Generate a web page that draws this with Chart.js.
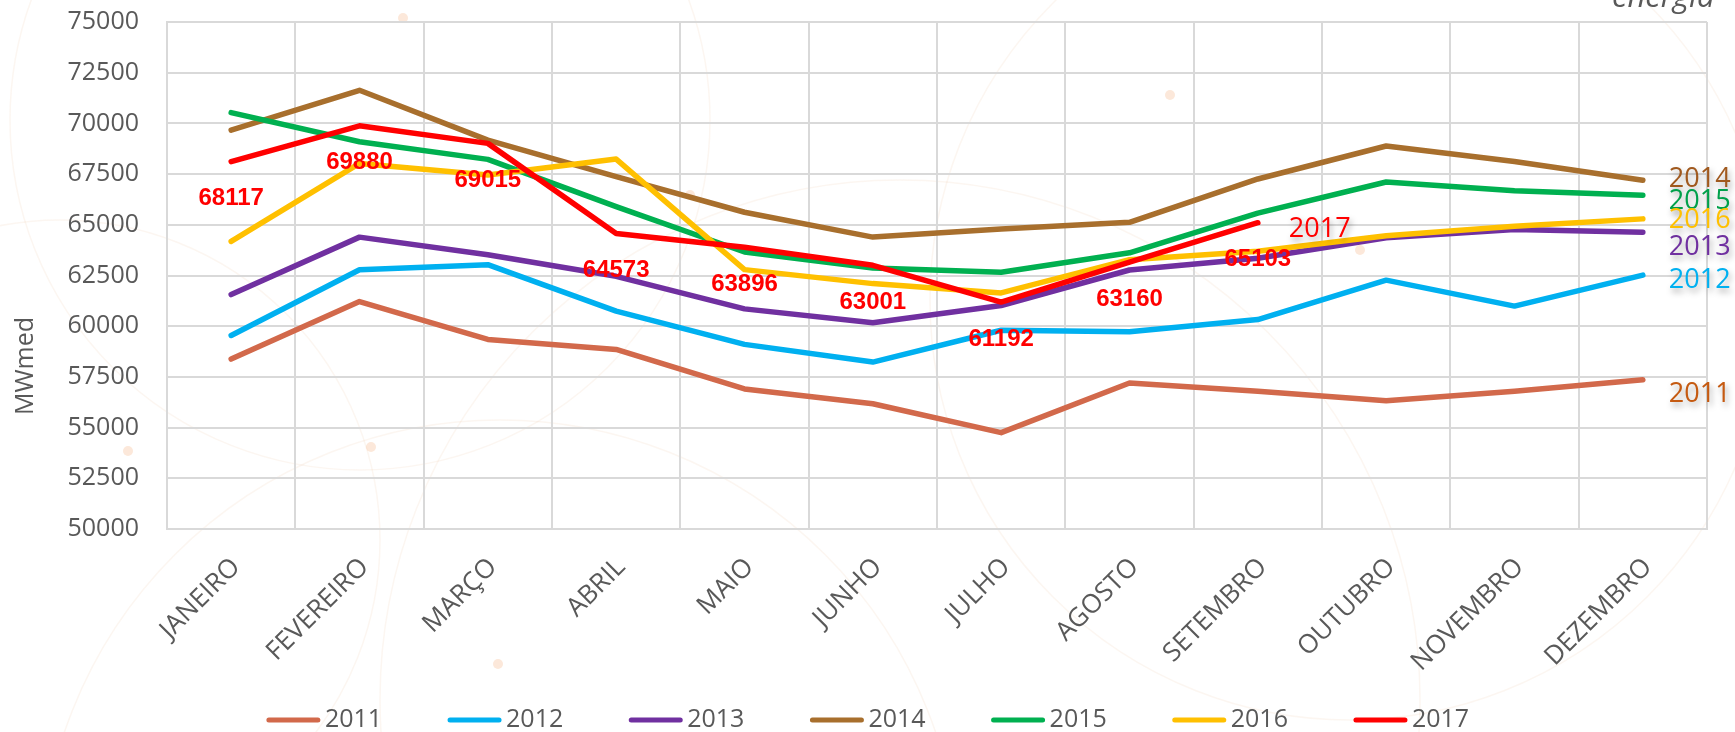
<!DOCTYPE html>
<html>
<head>
<meta charset="utf-8">
<script src="https://cdn.jsdelivr.net/npm/chart.js@4/dist/chart.umd.min.js"></script>
<style>
  html, body { margin: 0; padding: 0; background: #ffffff; }
  #wrap { width: 1735px; height: 732px; position: relative; }
</style>
</head>
<body>
<div id="wrap"><canvas id="c" width="1735" height="732"></canvas></div>
<script>
const months = ["JANEIRO","FEVEREIRO","MARÇO","ABRIL","MAIO","JUNHO","JULHO","AGOSTO","SETEMBRO","OUTUBRO","NOVEMBRO","DEZEMBRO"];
const years = ["2011","2012","2013","2014","2015","2016","2017"];
const s2011 = [58378, 61216, 59346, 58855, 56904, 56175, 54751, 57202, 56788, 56324, 56790, 57360];
const s2012 = [59544, 62787, 63033, 60740, 59103, 58230, 59800, 59730, 60330, 62270, 60990, 62517];
const s2013 = [61558, 64392, 63524, 62459, 60855, 60168, 61020, 62770, 63350, 64360, 64770, 64636];
const s2014 = [69666, 71632, 69175, 67373, 65620, 64394, 64787, 65120, 67260, 68885, 68120, 67197];
const s2015 = [70534, 69093, 68225, 65899, 63660, 62870, 62657, 63620, 65575, 67110, 66680, 66459];
const s2016 = [64179, 68028, 67455, 68241, 62790, 62100, 61642, 63280, 63700, 64460, 64930, 65292];
const s2017 = [68117, 69880, 69015, 64573, 63896, 63001, 61192, 63160, 65103, null, null, null];
const yTicks = [50000, 52500, 55000, 57500, 60000, 62500, 65000, 67500, 70000, 72500, 75000];

const seriesValues = [s2011, s2012, s2013, s2014, s2015, s2016, s2017];
const lineColors = ["#D2694B", "#00B0F0", "#7030A0", "#A86F2D", "#00B050", "#FFC000", "#FF0000"];
const nameColors = ["#C55A11", "#00B0F0", "#7030A0", "#A0591E", "#00A04A", "#FFC000", "#FF0000"];
// vertical nudge of the end-of-line series names (pixels), to avoid overlaps
const nameDy = [15, 5, 15, -1, 6, 1, 7];

const TEXT = "#595959";
const FONT = "'Open Sans', 'Liberation Sans', sans-serif";

const datasets = years.map((y, i) => ({
  label: y,
  data: seriesValues[i],
  borderColor: lineColors[i],
  backgroundColor: lineColors[i],
  borderWidth: 5.5,
  pointRadius: 0,
  pointHoverRadius: 0,
  tension: 0,
  borderCapStyle: 'round',
  borderJoinStyle: 'round',
  spanGaps: false,
  order: years.length - 1 - i
}));

const overlay = {
  id: 'overlay',
  beforeDraw(chart) {
    const ctx = chart.ctx;
    ctx.save();
    ctx.fillStyle = '#ffffff';
    ctx.fillRect(0, 0, chart.width, chart.height);
    // faint decorative watermark arcs
    ctx.strokeStyle = 'rgba(236, 200, 170, 0.16)';
    ctx.lineWidth = 1.5;
    const arcs = [[500, 880, 460], [360, 120, 350], [1350, 300, 420], [900, 700, 520], [60, 540, 320]];
    arcs.forEach(a => { ctx.beginPath(); ctx.arc(a[0], a[1], a[2], 0, Math.PI * 2); ctx.stroke(); });
    ctx.fillStyle = 'rgba(245, 190, 150, 0.35)';
    [[1170, 95], [498, 664], [128, 451], [371, 447], [1360, 250], [690, 195], [403, 18]].forEach(p => {
      ctx.beginPath(); ctx.arc(p[0], p[1], 5, 0, Math.PI * 2); ctx.fill();
    });
    // logo word at top right
    ctx.fillStyle = TEXT;
    ctx.font = "italic 31px " + FONT;
    ctx.textAlign = 'left';
    ctx.textBaseline = 'alphabetic';
    ctx.fillText('energia', 1612, 7);
    ctx.restore();
  },
  afterDatasetsDraw(chart) {
    const ctx = chart.ctx;
    ctx.save();
    // data labels for 2017
    const idx17 = years.indexOf('2017');
    const meta17 = chart.getDatasetMeta(idx17);
    ctx.font = "bold 24px 'Liberation Sans', sans-serif";
    ctx.fillStyle = '#FF0000';
    ctx.textAlign = 'center';
    ctx.textBaseline = 'middle';
    s2017.forEach((v, i) => {
      if (v === null) return;
      const pt = meta17.data[i];
      ctx.fillText(String(v), pt.x, pt.y + 37);
    });
    // series names at the end of each line
    ctx.font = "27px " + FONT;
    ctx.textAlign = 'left';
    ctx.shadowColor = 'rgba(0,0,0,0.35)';
    ctx.shadowBlur = 6;
    ctx.shadowOffsetX = 2;
    ctx.shadowOffsetY = 4;
    years.forEach((y, i) => {
      const vals = seriesValues[i];
      let last = vals.length - 1;
      while (last >= 0 && vals[last] === null) last--;
      const pt = chart.getDatasetMeta(i).data[last];
      ctx.fillStyle = nameColors[i];
      ctx.fillText(y, pt.x + (last === vals.length - 1 ? 26 : 31), pt.y + nameDy[i]);
    });
    ctx.restore();
  },
  afterDraw(chart) {
    const ctx = chart.ctx;
    ctx.save();
    // y axis title
    ctx.fillStyle = TEXT;
    ctx.font = "25px " + FONT;
    ctx.textAlign = 'center';
    ctx.textBaseline = 'middle';
    ctx.translate(26, 366);
    ctx.rotate(-Math.PI / 2);
    ctx.fillText('MWmed', 0, 0);
    ctx.restore();
    // legend
    ctx.save();
    ctx.font = "25px " + FONT;
    ctx.textBaseline = 'middle';
    ctx.textAlign = 'left';
    const lineW = 55, gapText = 4, gapItem = 65, ly = 720;
    const widths = years.map(y => lineW + gapText + ctx.measureText(y).width);
    const total = widths.reduce((a, b) => a + b, 0) + gapItem * (years.length - 1);
    let x = chart.width / 2 - total / 2;
    years.forEach((y, i) => {
      ctx.strokeStyle = lineColors[i];
      ctx.lineWidth = 5;
      ctx.lineCap = 'round';
      ctx.beginPath();
      ctx.moveTo(x + 3, ly);
      ctx.lineTo(x + lineW - 3, ly);
      ctx.stroke();
      ctx.fillStyle = TEXT;
      ctx.fillText(y, x + lineW + gapText, ly);
      x += widths[i] + gapItem;
    });
    ctx.restore();
  }
};

new Chart(document.getElementById('c'), {
  type: 'line',
  data: { labels: months, datasets: datasets },
  options: {
    responsive: false,
    animation: false,
    devicePixelRatio: 1,
    layout: { padding: { top: 22, right: 28, bottom: 0, left: 0 } },
    plugins: { legend: { display: false }, tooltip: { enabled: false }, title: { display: false } },
    scales: {
      x: {
        offset: true,
        grid: { offset: true, color: '#D9D9D9', lineWidth: 2, drawTicks: false },
        border: { display: true, color: '#D9D9D9', width: 2 },
        ticks: {
          color: TEXT,
          font: { family: FONT, size: 26 },
          maxRotation: 45, minRotation: 45,
          padding: 23,
          labelOffset: 5,
          autoSkip: false
        },
        afterFit(scale) { scale.height = 203; }
      },
      y: {
        min: 50000, max: 75000,
        afterBuildTicks(scale) { scale.ticks = yTicks.map(v => ({ value: v })); },
        grid: { color: '#D9D9D9', lineWidth: 2, drawTicks: false },
        border: { display: true, color: '#D9D9D9', width: 2 },
        ticks: {
          color: TEXT,
          font: { family: FONT, size: 25 },
          padding: 28,
          callback: v => String(v)
        },
        afterFit(scale) { scale.width = 167; scale.paddingTop = 0; scale.paddingBottom = 0; }
      }
    }
  },
  plugins: [overlay]
});
</script>
</body>
</html>
